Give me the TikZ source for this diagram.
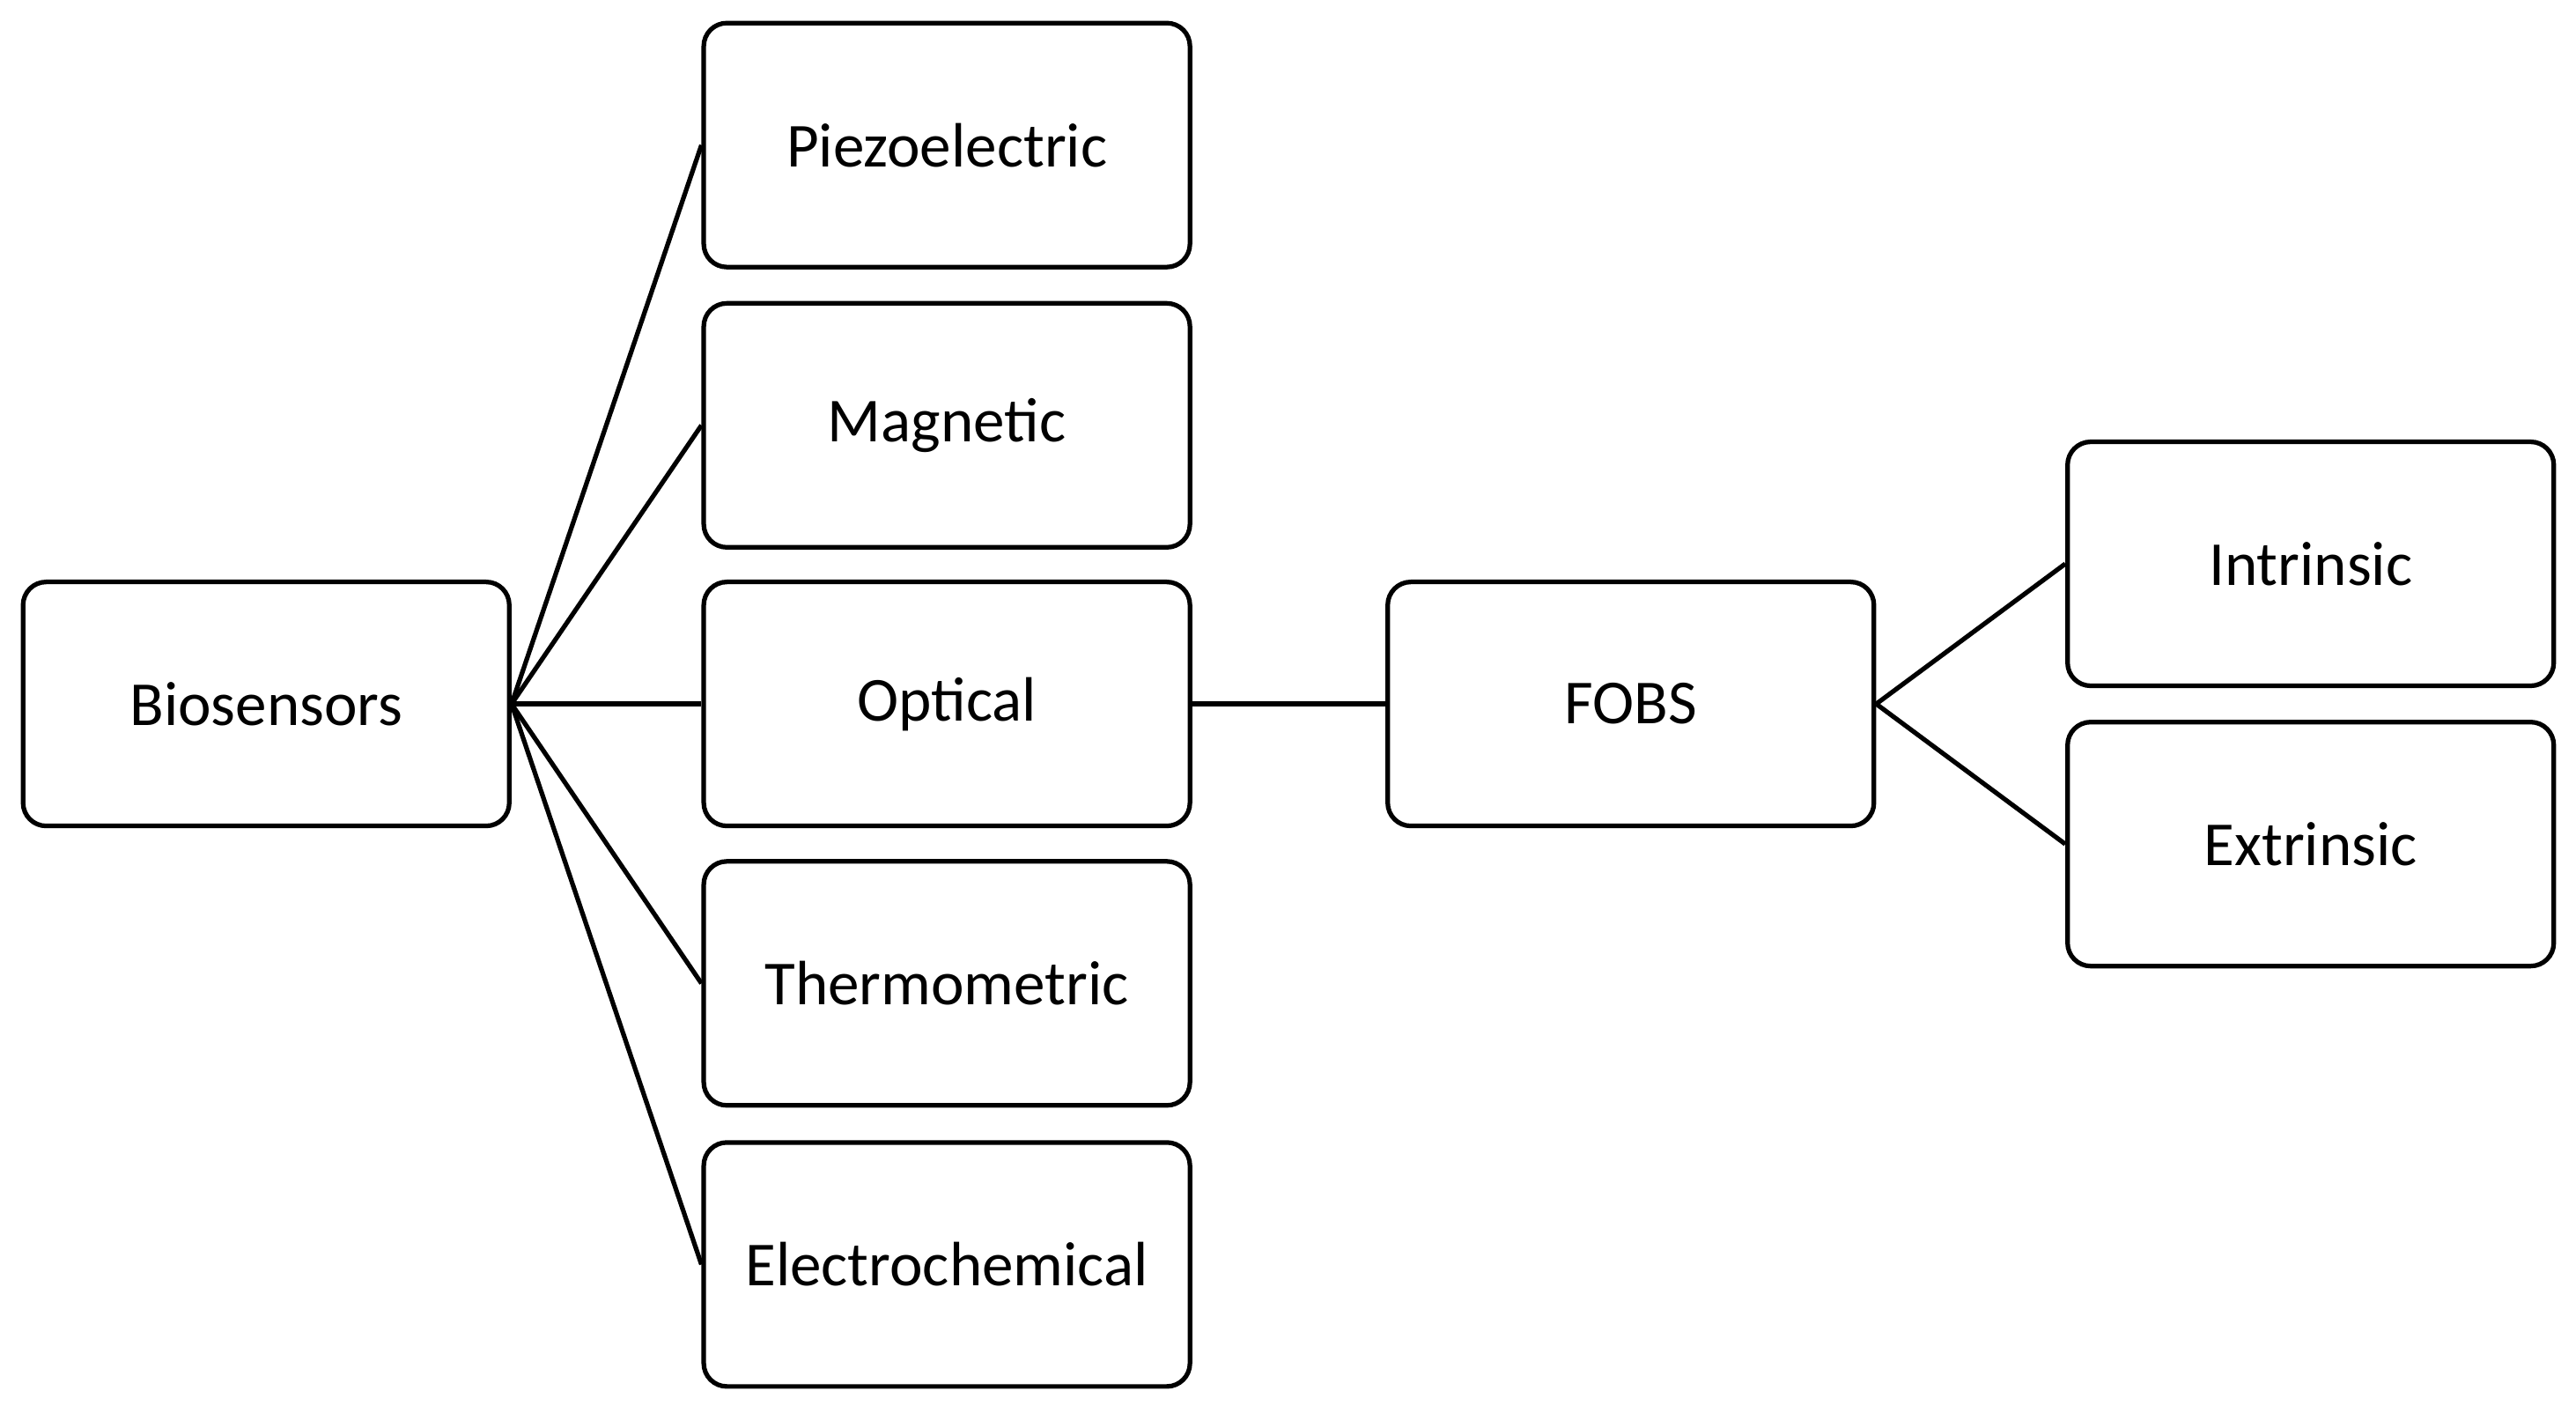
\documentclass[tikz,border=0pt]{standalone}
\usepackage{fontspec}
\setmainfont{Carlito}
\begin{document}
\begin{tikzpicture}[x=0.5pt,y=-0.5pt,
  box/.style={draw,line width=1.4pt,rounded corners=7pt,minimum width=147.5pt,minimum height=74pt,inner sep=0pt,font=\fontsize{19}{22}\selectfont},
  ln/.style={line width=1.4pt}]
\useasboundingbox (0,0) rectangle (1563,857);
\node[box] (bio) at (161.5,427) {Biosensors};
\node[box] (pie) at (574.5,88) {Piezoelectric};
\node[box] (mag) at (574.5,258) {Magnetic};
\node[box] (opt) at (574.5,427) {Optical};
\node[box] (the) at (574.5,596.5) {Thermometric};
\node[box] (ele) at (574.5,767) {Electrochemical};
\node[box] (fobs) at (989.5,427) {FOBS};
\node[box] (int) at (1402,342) {Intrinsic};
\node[box] (ext) at (1402,512) {Extrinsic};
\foreach \n in {pie,mag,opt,the,ele} \draw[ln] (bio.east) -- (\n.west);
\draw[ln] (opt.east) -- (fobs.west);
\draw[ln] (fobs.east) -- (int.west);
\draw[ln] (fobs.east) -- (ext.west);
\end{tikzpicture}
\end{document}
